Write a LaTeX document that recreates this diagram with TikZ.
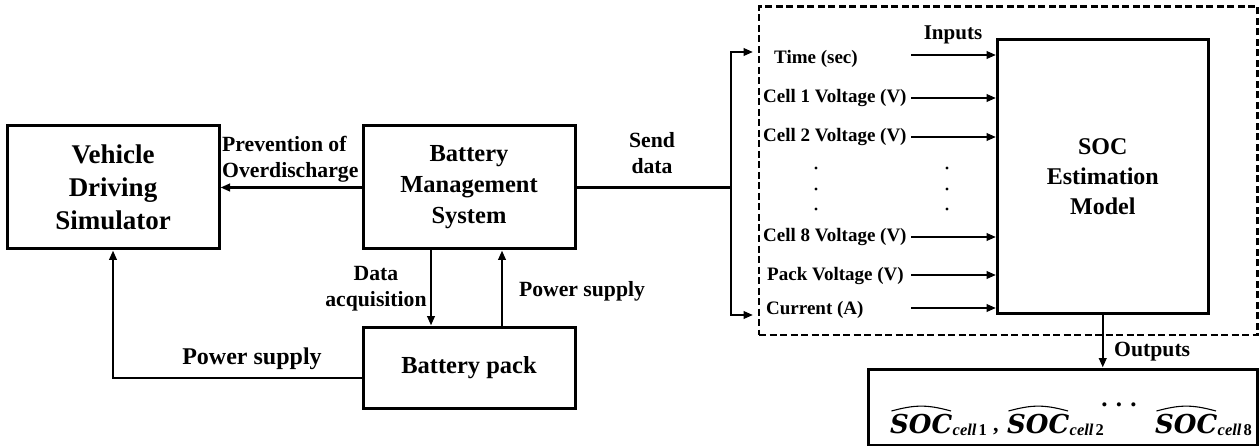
\documentclass[tikz,border=0pt]{standalone}
\usepackage{fontspec}
\setmainfont{Liberation Serif}
\newfontfamily\dvs{DejaVu Serif}
\usetikzlibrary{arrows.meta}
\newcommand{\fs}[2]{\fontsize{#1}{#2}\selectfont}
\tikzset{
  arr/.tip={Triangle[length=9.5pt,width=7.5pt]},
  box/.style={draw, line width=3pt, rectangle, inner sep=0pt, align=center, font=\bfseries\fs{24.5}{31}},
  conn/.style={line width=2.3pt, -arr},
  both/.style={line width=2.3pt, arr-arr},
  plain/.style={line width=2.3pt},
  lbl/.style={inner sep=0pt, font=\bfseries\fs{21.7}{26}, align=center},
  inlbl/.style={inner sep=0pt, anchor=west, font=\bfseries\fs{19}{23}},
  soct/.style={inner sep=0pt, anchor=base west, font=\dvs\bfseries\itshape\fs{26}{30}},
  subt/.style={inner sep=0pt, anchor=base west, font=\bfseries\itshape\fs{16.5}{18}},
  hatline/.style={line width=1.1pt},
  dotc/.style={fill=black},
}
\begin{document}
\begin{tikzpicture}[x=1pt,y=-1pt]
\useasboundingbox (0,0) rectangle (1260,446);

% left blocks
\node[box, minimum width=212pt, minimum height=123pt, font=\bfseries\fs{27}{33}] (veh) at (113,187.5) {Vehicle\\Driving\\Simulator};
\node[box, minimum width=212pt, minimum height=123pt] (bms) at (469,187.5) {Battery\\Management\\System};
\node[box, minimum width=212pt, minimum height=81pt] (pack) at (469,367.5) {\raisebox{-12pt}{Battery pack}};

% right blocks
\node[draw, line width=2.7pt, dash pattern=on 7pt off 3.5pt, minimum width=498.5pt, minimum height=328.5pt, inner sep=0pt] (dbox) at (1008.25,170.75) {};
\node[box, minimum width=210.5pt, minimum height=273.5pt, font=\bfseries\fs{24}{30}] (soc) at (1102.75,176.25) {\raisebox{-3pt}{\parbox{200pt}{\centering SOC\\Estimation\\Model}}};
\node[draw, line width=3pt, minimum width=389.5pt, minimum height=76pt, inner sep=0pt] (out) at (1062.75,407) {};

% connectors left
\draw[conn] (bms.west) -- (veh.east);
\draw[conn] ([xshift=-38pt]bms.south) -- ([xshift=-38pt]pack.north);
\draw[conn] ([xshift=33pt]pack.north) -- ([xshift=33pt]bms.south);
\draw[conn] ([yshift=-10.5pt]pack.west) -| (veh.south);

% send data & bracket
\coordinate (br) at (731,187.5);
\coordinate (bt) at (731,52);
\coordinate (bb) at (731,315);
\coordinate (bt2) at (753,52);
\coordinate (bb2) at (753,315);
\draw[plain] (bms.east) -- (br);
\draw[both] (bt2) -- (bt) -- (bb) -- (bb2);

% edge labels
\node[lbl, anchor=west, align=left] (prev) at (222,159) {Prevention of\\Overdischarge};
\node[lbl] (send) at (652,153) {Send\\data};
\node[lbl] (daq) at (376,289) {Data\\acquisition};
\node[lbl] (ps1) at (582,291) {Power supply};
\node[lbl, font=\bfseries\fs{24}{28}] (ps2) at (252,359) {Power supply};

% inputs
\node[lbl, font=\bfseries\fs{21}{25}] (inp) at (953,35) {Inputs};
\node[inlbl] (lt) at (774,59) {Time (sec)};
\node[inlbl] (l1) at (763,98) {Cell 1 Voltage (V)};
\node[inlbl] (l2) at (763,137) {Cell 2 Voltage (V)};
\node[inlbl] (l8) at (763,237) {Cell 8 Voltage (V)};
\node[inlbl] (lp) at (767,276) {Pack Voltage (V)};
\node[inlbl] (lc) at (766,310) {Current (A)};

\coordinate (it) at (911,55);
\coordinate (i1) at (911,98);
\coordinate (i2) at (911,137);
\coordinate (i8) at (911,237);
\coordinate (ip) at (911,275);
\coordinate (ic) at (911,308);
\foreach \c in {it,i1,i2,i8,ip,ic} {
  \draw[conn] (\c) -- (\c -| soc.west);
}

% vertical dots
\foreach \yy in {168,189,209} {
  \fill[dotc] (816,\yy) circle (1.7pt);
  \fill[dotc] (947,\yy) circle (1.7pt);
}

% outputs
\draw[conn] (soc.south) -- (soc.south |- out.north);
\node[lbl, anchor=west, font=\bfseries\fs{21.7}{26}] (outl) at (1114,352) {Outputs};

\node[soct] (s1) at (890,433) {SOC};
\node[subt] (c1) at ([yshift=-2.5pt]s1.base east) {cell\kern2pt\upshape 1};
\node[inner sep=0pt, anchor=base west, font=\bfseries\fs{22}{26}] (cm) at (993,431) {,};
\node[soct] (s2) at (1007,433) {SOC};
\node[subt] (c2) at ([yshift=-2.5pt]s2.base east) {cell\kern2pt\upshape 2};
\node[lbl, anchor=base, font=\bfseries\fs{25}{30}] (dots) at (1119,406) {.\,\,.\,\,.};
\node[soct] (s8) at (1155,433) {SOC};
\node[subt] (c8) at ([yshift=-2.5pt]s8.base east) {cell\kern2pt\upshape 8};

\foreach \s in {s1,s2,s8} {
  \draw[hatline] ([shift={(1.5,-2.5)}]\s.north west) .. controls ([shift={(-6,-9)}]\s.north) and ([shift={(6,-9)}]\s.north) .. ([shift={(-1.5,-2.5)}]\s.north east);
}
\end{tikzpicture}
\end{document}
